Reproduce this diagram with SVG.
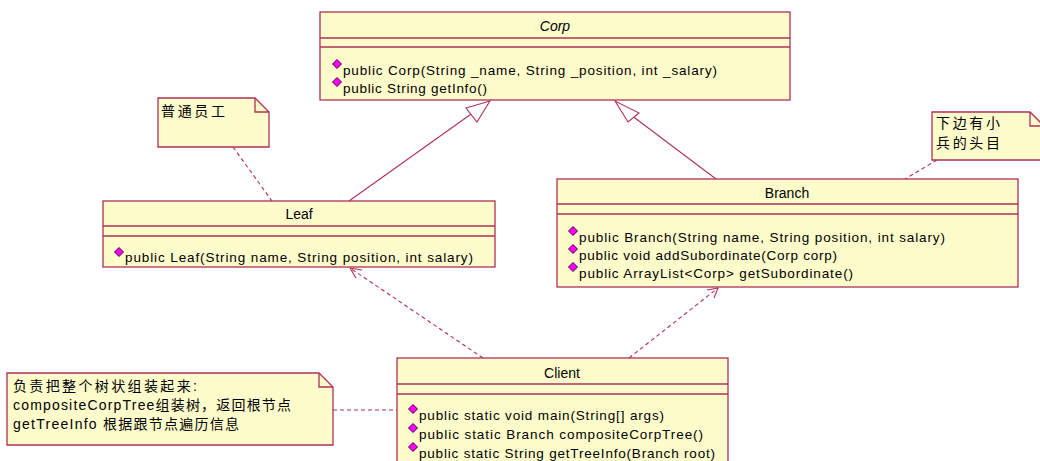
<svg xmlns="http://www.w3.org/2000/svg" width="1040" height="461" viewBox="0 0 1040 461">
<style>
.box{fill:#fffccc;stroke:#b03058;stroke-width:1.3}
.sep{stroke:#b03058;stroke-width:1.3;fill:none}
.t{font-family:"Liberation Sans","Noto Sans CJK SC",sans-serif;font-size:13.5px;fill:#000}
.n{font-size:14px}
.nm{text-anchor:middle;font-size:14px}
.it{font-style:italic}
.line{stroke:#b03058;stroke-width:1.1;fill:none}
.dash{stroke:#b03058;stroke-width:1.1;fill:none;stroke-dasharray:4,3}
.tri{fill:#fff;stroke:#b03058;stroke-width:1.1}
.dia{fill:#ff00ff;stroke:#400040;stroke-width:1}
</style>
<defs>
<path id="d" class="dia" d="M0,-4.5 L4.5,0 L0,4.5 L-4.5,0 Z"/>
</defs>
<rect width="1040" height="461" fill="#fff"/>

<g id="connectors">
<path class="line" d="M349,201 L481,107"/>
<path class="tri" d="M490,101 L466,108 L477,122 Z"/>
<path class="line" d="M716,179 L627,112"/>
<path class="tri" d="M615,101 L628,122 L639,113 Z"/>
<path class="dash" d="M483,358 L350,268"/>
<path class="line" d="M350,268 L362,270 M350,268 L356,278"/>
<path class="dash" d="M629,358 L718,288"/>
<path class="line" d="M718,288 L707,290 M718,288 L714,298"/>
<path class="dash" d="M233,147 L272,201"/>
<path class="dash" d="M937,160 L905,179"/>
<path class="dash" d="M333,410 L397,410"/>
</g>

<g id="Corp">
<rect class="box" x="320" y="12" width="470" height="88"/>
<path class="sep" d="M320,38 H790 M320,47 H790"/>
<text class="t nm it" x="555" y="31">Corp</text>
<use href="#d" x="337" y="64"/>
<text class="t" x="343" y="75" textLength="374" lengthAdjust="spacing">public Corp(String _name, String _position, int _salary)</text>
<use href="#d" x="337" y="82"/>
<text class="t" x="343" y="93" textLength="144" lengthAdjust="spacing">public String getInfo()</text>
</g>

<g id="Leaf">
<rect class="box" x="103" y="201" width="392" height="66"/>
<path class="sep" d="M103,226 H495 M103,236 H495"/>
<text class="t nm" x="299" y="219">Leaf</text>
<use href="#d" x="119" y="252"/>
<text class="t" x="125" y="262" textLength="348" lengthAdjust="spacing">public Leaf(String name, String position, int salary)</text>
</g>

<g id="Branch">
<rect class="box" x="557" y="179" width="461" height="108"/>
<path class="sep" d="M557,204 H1018 M557,214 H1018"/>
<text class="t nm" x="787" y="198">Branch</text>
<use href="#d" x="573" y="231"/>
<text class="t" x="579" y="242" textLength="366" lengthAdjust="spacing">public Branch(String name, String position, int salary)</text>
<use href="#d" x="573" y="249"/>
<text class="t" x="579" y="260" textLength="258" lengthAdjust="spacing">public void addSubordinate(Corp corp)</text>
<use href="#d" x="573" y="267"/>
<text class="t" x="579" y="278" textLength="274" lengthAdjust="spacing">public ArrayList&lt;Corp&gt; getSubordinate()</text>
</g>

<g id="Client">
<rect class="box" x="397" y="358" width="331" height="110"/>
<path class="sep" d="M397,384 H728 M397,394 H728"/>
<text class="t nm" x="562" y="378">Client</text>
<use href="#d" x="413" y="409"/>
<text class="t" x="419" y="420" textLength="245" lengthAdjust="spacing">public static void main(String[] args)</text>
<use href="#d" x="413" y="428"/>
<text class="t" x="419" y="439" textLength="284" lengthAdjust="spacing">public static Branch compositeCorpTree()</text>
<use href="#d" x="413" y="447"/>
<text class="t" x="419" y="458" textLength="296" lengthAdjust="spacing">public static String getTreeInfo(Branch root)</text>
</g>

<g id="noteLeaf">
<path class="box" d="M158,98 H255 L269,112 V147 H158 Z"/>
<path class="sep" d="M255,98 V112 H269"/>
<text class="t n" x="161" y="116" textLength="64" lengthAdjust="spacing">普通员工</text>
</g>

<g id="noteBranch">
<path class="box" d="M932,112 H1030 L1044,126 V160 H932 Z"/>
<path class="sep" d="M1030,112 V126 H1044"/>
<text class="t n" x="936" y="128" textLength="64" lengthAdjust="spacing">下边有小</text>
<text class="t n" x="936" y="148" textLength="64" lengthAdjust="spacing">兵的头目</text>
</g>

<g id="noteClient">
<path class="box" d="M7,373 H319 L333,387 V445 H7 Z"/>
<path class="sep" d="M319,373 V387 H333"/>
<text class="t n" x="13" y="391" textLength="184" lengthAdjust="spacing">负责把整个树状组装起来:</text>
<text class="t n" x="13" y="410" textLength="278" lengthAdjust="spacing">compositeCorpTree组装树，返回根节点</text>
<text class="t n" x="13" y="429" textLength="226" lengthAdjust="spacing">getTreeInfo 根据跟节点遍历信息</text>
</g>
</svg>
